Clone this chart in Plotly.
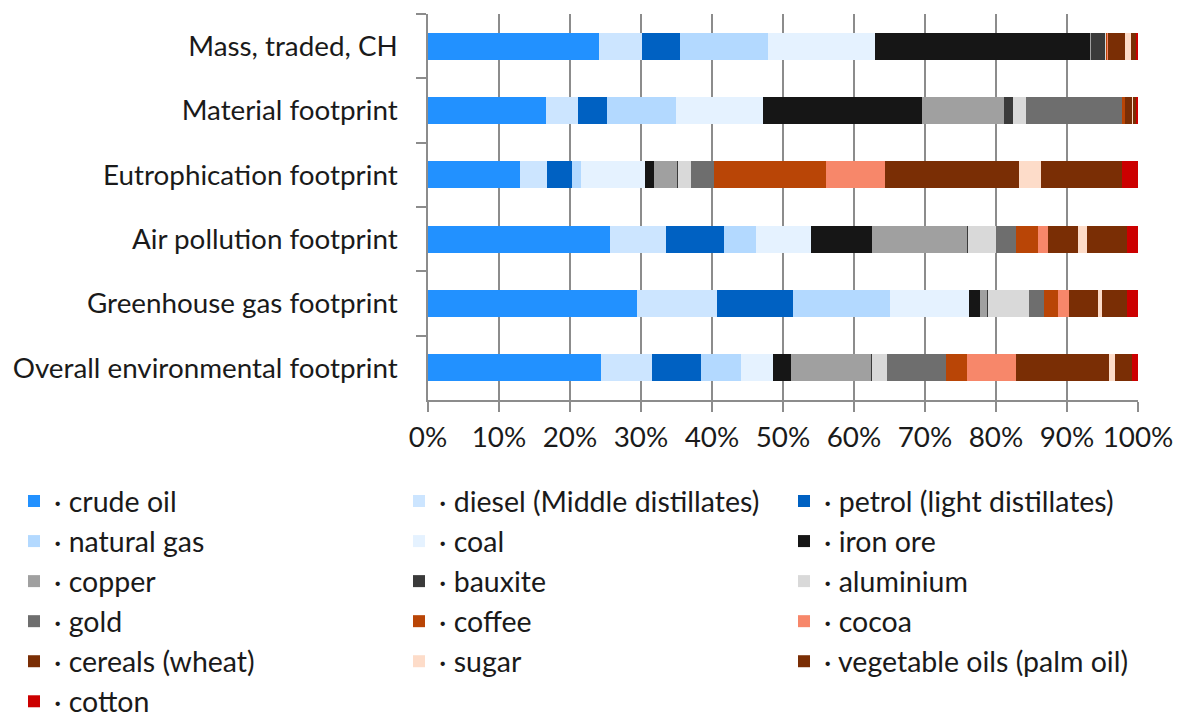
import plotly.graph_objects as go

categories = ["Mass, traded, CH", "Material footprint", "Eutrophication footprint",
              "Air pollution footprint", "Greenhouse gas footprint",
              "Overall environmental footprint"]

crude_oil = [24.1, 16.7, 13.0, 25.6, 29.5, 24.4]
diesel = [6.0, 4.5, 3.7, 7.9, 11.2, 7.2]
petrol = [5.4, 4.1, 3.6, 8.2, 10.7, 6.9]
natural_gas = [12.5, 9.7, 1.3, 4.5, 13.7, 5.6]
coal = [15.0, 12.2, 9.0, 7.7, 11.2, 4.5]
iron_ore = [30.4, 22.4, 1.3, 8.7, 1.5, 2.5]
copper = [0.1, 11.6, 3.2, 13.4, 1.1, 11.3]
bauxite = [1.9, 1.3, 0.1, 0.1, 0.1, 0.1]
aluminium = [0.3, 1.8, 1.8, 3.9, 5.8, 2.2]
gold = [0.0, 13.6, 3.3, 2.8, 2.1, 8.2]
coffee = [0.1, 0.4, 15.8, 3.1, 1.9, 3.0]
cocoa = [0.1, 0.0, 8.2, 1.4, 1.6, 6.9]
cereals = [2.4, 1.0, 18.9, 4.3, 4.0, 13.1]
sugar = [0.8, 0.1, 3.1, 1.2, 0.6, 0.8]
veg_oils = [0.8, 0.4, 11.4, 5.6, 3.6, 2.5]
cotton = [0.2, 0.3, 2.3, 1.6, 1.5, 0.8]

series_names = ["crude oil", "diesel (Middle distillates)", "petrol (light distillates)",
                "natural gas", "coal", "iron ore", "copper", "bauxite", "aluminium",
                "gold", "coffee", "cocoa", "cereals (wheat)", "sugar",
                "vegetable oils (palm oil)", "cotton"]
series_values = [crude_oil, diesel, petrol, natural_gas, coal, iron_ore, copper, bauxite,
                 aluminium, gold, coffee, cocoa, cereals, sugar, veg_oils, cotton]
colors = ["#2291FF", "#CCE5FF", "#0061C2", "#B3D9FF", "#E5F2FF", "#161616", "#A0A0A0",
          "#3A3A3A", "#D9D9D9", "#6E6E6E", "#B94506", "#F7876A", "#7A2E05", "#FDDCC9",
          "#7A2E05", "#CC0000"]

FONT = "Lato"
W, H = 1180, 715
L, R, T, B = 428, 42, 14, 315
plot_h = H - T - B
plot_w = W - L - R

legend_keys = ["legend", "legend2", "legend3"]

fig = go.Figure()
for i, (name, vals, col) in enumerate(zip(series_names, series_values, colors)):
    fig.add_trace(go.Bar(
        y=categories, x=vals, name="· " + name, orientation="h",
        marker=dict(color=col, line=dict(width=0)),
        legend=legend_keys[i % 3],
    ))

col_left_px = [14, 399, 784]
legend_top_px = 476
legends = {}
for key, xpx in zip(legend_keys, col_left_px):
    legends[key] = dict(
        orientation="v", x=(xpx - L) / plot_w, xanchor="left",
        y=(H - B - legend_top_px) / plot_h, yanchor="top",
        font=dict(family=FONT, size=28.5, color="#1a1a1a"),
        bgcolor="rgba(0,0,0,0)", borderwidth=0,
        traceorder="normal", maxheight=300,
    )

fig.update_layout(
    width=W, height=H,
    barmode="stack", barnorm="percent", bargap=0.585,
    margin=dict(l=L, r=R, t=T, b=B, autoexpand=False),
    paper_bgcolor="white", plot_bgcolor="white",
    font=dict(family=FONT, size=27.8, color="#1a1a1a"),
    xaxis=dict(
        range=[0, 100], dtick=10, ticksuffix="%",
        showgrid=True, gridcolor="#8c8c8c", gridwidth=1.5,
        showline=True, linecolor="#8c8c8c", linewidth=1.5,
        ticks="outside", ticklen=10, tickcolor="#8c8c8c", tickwidth=1.5,
        ticklabelstandoff=2,
        zeroline=False, fixedrange=True,
        tickfont=dict(family=FONT, size=27.8, color="#1a1a1a"),
    ),
    yaxis=dict(
        categoryorder="array", categoryarray=categories, autorange="reversed",
        showline=True, linecolor="#8c8c8c", linewidth=1.5,
        ticks="outside", ticklen=10, tickcolor="#8c8c8c", tickwidth=1.5,
        tickson="boundaries", showgrid=False, zeroline=False,
        ticklabelstandoff=23,
        tickfont=dict(family=FONT, size=27.8, color="#1a1a1a"),
    ),
    showlegend=True,
    **legends,
)

fig.write_html("out.html")
